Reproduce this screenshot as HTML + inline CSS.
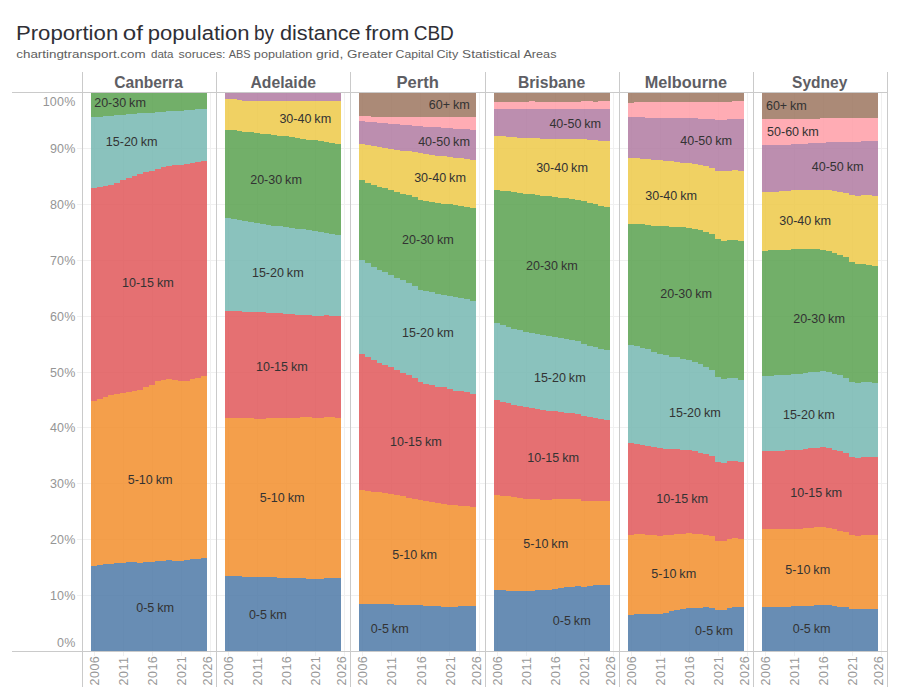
<!DOCTYPE html>
<html><head><meta charset="utf-8"><title>Proportion of population by distance from CBD</title>
<style>html,body{margin:0;padding:0;background:#fff;}body{width:900px;height:700px;overflow:hidden;}svg{display:block;}text{font-family:'Liberation Sans',sans-serif;}.ml{font-size:12.5px;fill:#333;}.yl{font-size:12.5px;fill:#959595;letter-spacing:0.2px;}.xl{font-size:12.5px;fill:#989898;letter-spacing:0.45px;}.hd{font-size:15.8px;font-weight:bold;fill:#5e5e64;}</style></head><body>
<svg width="900" height="700" viewBox="0 0 900 700">
<rect width="900" height="700" fill="#fff"/>
<g style="font-size:19.4px;fill:#2f2f36"><text x="15.93" y="40" textLength="102.29" lengthAdjust="spacingAndGlyphs">Proportion</text><text x="122.73" y="40" textLength="20.14" lengthAdjust="spacingAndGlyphs">of</text><text x="147.77" y="40" textLength="101.78" lengthAdjust="spacingAndGlyphs">population</text><text x="253.97" y="40" textLength="20.05" lengthAdjust="spacingAndGlyphs">by</text><text x="279.93" y="40" textLength="80.74" lengthAdjust="spacingAndGlyphs">distance</text><text x="365.27" y="40" textLength="43.97" lengthAdjust="spacingAndGlyphs">from</text><text x="413.65" y="40" textLength="40.24" lengthAdjust="spacingAndGlyphs">CBD</text></g>
<g style="font-size:11.5px;fill:#5e5e5e"><text x="16.3" y="57.9" textLength="129.29" lengthAdjust="spacingAndGlyphs">chartingtransport.com</text><text x="151.04" y="57.9" textLength="22.48" lengthAdjust="spacingAndGlyphs">data</text><text x="178.53" y="57.9" textLength="47.05" lengthAdjust="spacingAndGlyphs">soruces:</text><text x="228.75" y="57.9" textLength="21.86" lengthAdjust="spacingAndGlyphs">ABS</text><text x="253.88" y="57.9" textLength="58.35" lengthAdjust="spacingAndGlyphs">population</text><text x="316.04" y="57.9" textLength="27.26" lengthAdjust="spacingAndGlyphs">grid,</text><text x="347.13" y="57.9" textLength="45.54" lengthAdjust="spacingAndGlyphs">Greater</text><text x="395.59" y="57.9" textLength="38.04" lengthAdjust="spacingAndGlyphs">Capital</text><text x="436.47" y="57.9" textLength="21.72" lengthAdjust="spacingAndGlyphs">City</text><text x="462.09" y="57.9" textLength="58.26" lengthAdjust="spacingAndGlyphs">Statistical</text><text x="523.44" y="57.9" textLength="33.04" lengthAdjust="spacingAndGlyphs">Areas</text></g>
<g shape-rendering="crispEdges" stroke="#f0f0f0" stroke-width="1">
<line x1="77" x2="887" y1="595.5" y2="595.5"/>
<line x1="77" x2="887" y1="539.5" y2="539.5"/>
<line x1="77" x2="887" y1="483.5" y2="483.5"/>
<line x1="77" x2="887" y1="427.5" y2="427.5"/>
<line x1="77" x2="887" y1="372.5" y2="372.5"/>
<line x1="77" x2="887" y1="316.5" y2="316.5"/>
<line x1="77" x2="887" y1="260.5" y2="260.5"/>
<line x1="77" x2="887" y1="204.5" y2="204.5"/>
<line x1="77" x2="887" y1="148.5" y2="148.5"/>
<line x1="94.5" x2="94.5" y1="93" y2="656"/>
<line x1="123.5" x2="123.5" y1="93" y2="656"/>
<line x1="152.5" x2="152.5" y1="93" y2="656"/>
<line x1="181.5" x2="181.5" y1="93" y2="656"/>
<line x1="210.5" x2="210.5" y1="93" y2="656"/>
<line x1="228.5" x2="228.5" y1="93" y2="656"/>
<line x1="257.5" x2="257.5" y1="93" y2="656"/>
<line x1="286.5" x2="286.5" y1="93" y2="656"/>
<line x1="315.5" x2="315.5" y1="93" y2="656"/>
<line x1="344.5" x2="344.5" y1="93" y2="656"/>
<line x1="362.5" x2="362.5" y1="93" y2="656"/>
<line x1="391.5" x2="391.5" y1="93" y2="656"/>
<line x1="420.5" x2="420.5" y1="93" y2="656"/>
<line x1="449.5" x2="449.5" y1="93" y2="656"/>
<line x1="479.5" x2="479.5" y1="93" y2="656"/>
<line x1="497.5" x2="497.5" y1="93" y2="656"/>
<line x1="526.5" x2="526.5" y1="93" y2="656"/>
<line x1="555.5" x2="555.5" y1="93" y2="656"/>
<line x1="584.5" x2="584.5" y1="93" y2="656"/>
<line x1="613.5" x2="613.5" y1="93" y2="656"/>
<line x1="631.5" x2="631.5" y1="93" y2="656"/>
<line x1="660.5" x2="660.5" y1="93" y2="656"/>
<line x1="689.5" x2="689.5" y1="93" y2="656"/>
<line x1="718.5" x2="718.5" y1="93" y2="656"/>
<line x1="747.5" x2="747.5" y1="93" y2="656"/>
<line x1="765.5" x2="765.5" y1="93" y2="656"/>
<line x1="794.5" x2="794.5" y1="93" y2="656"/>
<line x1="823.5" x2="823.5" y1="93" y2="656"/>
<line x1="852.5" x2="852.5" y1="93" y2="656"/>
<line x1="881.5" x2="881.5" y1="93" y2="656"/>
</g>
<g shape-rendering="crispEdges" fill-opacity="0.85">
<path fill="#4E79A7" d="M91 566.1L96.8 566.1L96.8 565.15L102.6 565.15L102.6 564.2L108.4 564.2L108.4 563.76L114.2 563.76L114.2 563.32L120 563.32L120 562.88L125.8 562.88L125.8 562.44L131.6 562.44L131.6 562L137.4 562L137.4 562.8L143.2 562.8L143.2 562.28L149 562.28L149 561.76L154.8 561.76L154.8 561.24L160.6 561.24L160.6 560.72L166.4 560.72L166.4 560.2L172.2 560.2L172.2 560.6L178 560.6L178 561L183.8 561L183.8 560.23L189.6 560.23L189.6 559.45L195.4 559.45L195.4 558.67L201.2 558.67L201.2 557.9L207 557.9L207 651L201.2 651L201.2 651L195.4 651L195.4 651L189.6 651L189.6 651L183.8 651L183.8 651L178 651L178 651L172.2 651L172.2 651L166.4 651L166.4 651L160.6 651L160.6 651L154.8 651L154.8 651L149 651L149 651L143.2 651L143.2 651L137.4 651L137.4 651L131.6 651L131.6 651L125.8 651L125.8 651L120 651L120 651L114.2 651L114.2 651L108.4 651L108.4 651L102.6 651L102.6 651L96.8 651L96.8 651L91 651Z"/>
<path fill="#F28E2B" d="M91 401.1L96.8 401.1L96.8 399.2L102.6 399.2L102.6 397.2L108.4 397.2L108.4 395.1L114.2 395.1L114.2 394.2L120 394.2L120 393.3L125.8 393.3L125.8 392.2L131.6 392.2L131.6 391.1L137.4 391.1L137.4 390.2L143.2 390.2L143.2 387L149 387L149 385.2L154.8 385.2L154.8 381.1L160.6 381.1L160.6 380.2L166.4 380.2L166.4 379.3L172.2 379.3L172.2 380.2L178 380.2L178 381L183.8 381L183.8 381L189.6 381L189.6 379.3L195.4 379.3L195.4 378.2L201.2 378.2L201.2 376.1L207 376.1L207 557.9L201.2 557.9L201.2 558.67L195.4 558.67L195.4 559.45L189.6 559.45L189.6 560.23L183.8 560.23L183.8 561L178 561L178 560.6L172.2 560.6L172.2 560.2L166.4 560.2L166.4 560.72L160.6 560.72L160.6 561.24L154.8 561.24L154.8 561.76L149 561.76L149 562.28L143.2 562.28L143.2 562.8L137.4 562.8L137.4 562L131.6 562L131.6 562.44L125.8 562.44L125.8 562.88L120 562.88L120 563.32L114.2 563.32L114.2 563.76L108.4 563.76L108.4 564.2L102.6 564.2L102.6 565.15L96.8 565.15L96.8 566.1L91 566.1Z"/>
<path fill="#E15759" d="M91 188L96.8 188L96.8 187.2L102.6 187.2L102.6 186.1L108.4 186.1L108.4 185.4L114.2 185.4L114.2 183.3L120 183.3L120 180.2L125.8 180.2L125.8 178.3L131.6 178.3L131.6 176.3L137.4 176.3L137.4 174.4L143.2 174.4L143.2 172.4L149 172.4L149 170.6L154.8 170.6L154.8 169.3L160.6 169.3L160.6 167.4L166.4 167.4L166.4 166.3L172.2 166.3L172.2 165.4L178 165.4L178 164.6L183.8 164.6L183.8 163.9L189.6 163.9L189.6 163.1L195.4 163.1L195.4 162L201.2 162L201.2 160.9L207 160.9L207 376.1L201.2 376.1L201.2 378.2L195.4 378.2L195.4 379.3L189.6 379.3L189.6 381L183.8 381L183.8 381L178 381L178 380.2L172.2 380.2L172.2 379.3L166.4 379.3L166.4 380.2L160.6 380.2L160.6 381.1L154.8 381.1L154.8 385.2L149 385.2L149 387L143.2 387L143.2 390.2L137.4 390.2L137.4 391.1L131.6 391.1L131.6 392.2L125.8 392.2L125.8 393.3L120 393.3L120 394.2L114.2 394.2L114.2 395.1L108.4 395.1L108.4 397.2L102.6 397.2L102.6 399.2L96.8 399.2L96.8 401.1L91 401.1Z"/>
<path fill="#76B7B2" d="M91 117.1L96.8 117.1L96.8 116.64L102.6 116.64L102.6 116.18L108.4 116.18L108.4 115.72L114.2 115.72L114.2 115.26L120 115.26L120 114.8L125.8 114.8L125.8 114.34L131.6 114.34L131.6 113.88L137.4 113.88L137.4 113.42L143.2 113.42L143.2 112.96L149 112.96L149 112.5L154.8 112.5L154.8 112.11L160.6 112.11L160.6 111.72L166.4 111.72L166.4 111.33L172.2 111.33L172.2 110.94L178 110.94L178 110.56L183.8 110.56L183.8 110.17L189.6 110.17L189.6 109.78L195.4 109.78L195.4 109.39L201.2 109.39L201.2 109L207 109L207 160.9L201.2 160.9L201.2 162L195.4 162L195.4 163.1L189.6 163.1L189.6 163.9L183.8 163.9L183.8 164.6L178 164.6L178 165.4L172.2 165.4L172.2 166.3L166.4 166.3L166.4 167.4L160.6 167.4L160.6 169.3L154.8 169.3L154.8 170.6L149 170.6L149 172.4L143.2 172.4L143.2 174.4L137.4 174.4L137.4 176.3L131.6 176.3L131.6 178.3L125.8 178.3L125.8 180.2L120 180.2L120 183.3L114.2 183.3L114.2 185.4L108.4 185.4L108.4 186.1L102.6 186.1L102.6 187.2L96.8 187.2L96.8 188L91 188Z"/>
<path fill="#59A14F" d="M91 93L96.8 93L96.8 93L102.6 93L102.6 93L108.4 93L108.4 93L114.2 93L114.2 93L120 93L120 93L125.8 93L125.8 93L131.6 93L131.6 93L137.4 93L137.4 93L143.2 93L143.2 93L149 93L149 93L154.8 93L154.8 93L160.6 93L160.6 93L166.4 93L166.4 93L172.2 93L172.2 93L178 93L178 93L183.8 93L183.8 93L189.6 93L189.6 93L195.4 93L195.4 93L201.2 93L201.2 93L207 93L207 109L201.2 109L201.2 109.39L195.4 109.39L195.4 109.78L189.6 109.78L189.6 110.17L183.8 110.17L183.8 110.56L178 110.56L178 110.94L172.2 110.94L172.2 111.33L166.4 111.33L166.4 111.72L160.6 111.72L160.6 112.11L154.8 112.11L154.8 112.5L149 112.5L149 112.96L143.2 112.96L143.2 113.42L137.4 113.42L137.4 113.88L131.6 113.88L131.6 114.34L125.8 114.34L125.8 114.8L120 114.8L120 115.26L114.2 115.26L114.2 115.72L108.4 115.72L108.4 116.18L102.6 116.18L102.6 116.64L96.8 116.64L96.8 117.1L91 117.1Z"/>
<path fill="#4E79A7" d="M225 576L230.8 576L230.8 576.17L236.6 576.17L236.6 576.35L242.4 576.35L242.4 576.53L248.2 576.53L248.2 576.7L254 576.7L254 576.88L259.8 576.88L259.8 577.07L265.6 577.07L265.6 577.25L271.4 577.25L271.4 577.43L277.2 577.43L277.2 577.62L283 577.62L283 577.8L288.8 577.8L288.8 578L294.6 578L294.6 578.2L300.4 578.2L300.4 578.4L306.2 578.4L306.2 578.6L312 578.6L312 578.8L317.8 578.8L317.8 578.8L323.6 578.8L323.6 577.8L329.4 577.8L329.4 577.8L335.2 577.8L335.2 577.8L341 577.8L341 651L335.2 651L335.2 651L329.4 651L329.4 651L323.6 651L323.6 651L317.8 651L317.8 651L312 651L312 651L306.2 651L306.2 651L300.4 651L300.4 651L294.6 651L294.6 651L288.8 651L288.8 651L283 651L283 651L277.2 651L277.2 651L271.4 651L271.4 651L265.6 651L265.6 651L259.8 651L259.8 651L254 651L254 651L248.2 651L248.2 651L242.4 651L242.4 651L236.6 651L236.6 651L230.8 651L230.8 651L225 651Z"/>
<path fill="#F28E2B" d="M225 418L230.8 418L230.8 418L236.6 418L236.6 418L242.4 418L242.4 418L248.2 418L248.2 418L254 418L254 418.8L259.8 418.8L259.8 418.8L265.6 418.8L265.6 418L271.4 418L271.4 418L277.2 418L277.2 418L283 418L283 418L288.8 418L288.8 418L294.6 418L294.6 418L300.4 418L300.4 417.3L306.2 417.3L306.2 417.3L312 417.3L312 418L317.8 418L317.8 418L323.6 418L323.6 417.4L329.4 417.4L329.4 417.4L335.2 417.4L335.2 418L341 418L341 577.8L335.2 577.8L335.2 577.8L329.4 577.8L329.4 577.8L323.6 577.8L323.6 578.8L317.8 578.8L317.8 578.8L312 578.8L312 578.6L306.2 578.6L306.2 578.4L300.4 578.4L300.4 578.2L294.6 578.2L294.6 578L288.8 578L288.8 577.8L283 577.8L283 577.62L277.2 577.62L277.2 577.43L271.4 577.43L271.4 577.25L265.6 577.25L265.6 577.07L259.8 577.07L259.8 576.88L254 576.88L254 576.7L248.2 576.7L248.2 576.53L242.4 576.53L242.4 576.35L236.6 576.35L236.6 576.17L230.8 576.17L230.8 576L225 576Z"/>
<path fill="#E15759" d="M225 310.9L230.8 310.9L230.8 311.12L236.6 311.12L236.6 311.35L242.4 311.35L242.4 311.57L248.2 311.57L248.2 311.8L254 311.8L254 312.13L259.8 312.13L259.8 312.47L265.6 312.47L265.6 312.8L271.4 312.8L271.4 313.13L277.2 313.13L277.2 313.47L283 313.47L283 313.8L288.8 313.8L288.8 314.15L294.6 314.15L294.6 314.5L300.4 314.5L300.4 314.85L306.2 314.85L306.2 315.2L312 315.2L312 315.55L317.8 315.55L317.8 315.9L323.6 315.9L323.6 314.9L329.4 314.9L329.4 315.9L335.2 315.9L335.2 315.9L341 315.9L341 418L335.2 418L335.2 417.4L329.4 417.4L329.4 417.4L323.6 417.4L323.6 418L317.8 418L317.8 418L312 418L312 417.3L306.2 417.3L306.2 417.3L300.4 417.3L300.4 418L294.6 418L294.6 418L288.8 418L288.8 418L283 418L283 418L277.2 418L277.2 418L271.4 418L271.4 418L265.6 418L265.6 418.8L259.8 418.8L259.8 418.8L254 418.8L254 418L248.2 418L248.2 418L242.4 418L242.4 418L236.6 418L236.6 418L230.8 418L230.8 418L225 418Z"/>
<path fill="#76B7B2" d="M225 218L230.8 218L230.8 218.94L236.6 218.94L236.6 219.88L242.4 219.88L242.4 220.82L248.2 220.82L248.2 221.76L254 221.76L254 222.7L259.8 222.7L259.8 223.64L265.6 223.64L265.6 224.58L271.4 224.58L271.4 225.52L277.2 225.52L277.2 226.46L283 226.46L283 227.4L288.8 227.4L288.8 228.02L294.6 228.02L294.6 228.64L300.4 228.64L300.4 229.26L306.2 229.26L306.2 229.88L312 229.88L312 230.5L317.8 230.5L317.8 231.68L323.6 231.68L323.6 232.85L329.4 232.85L329.4 234.02L335.2 234.02L335.2 235.2L341 235.2L341 315.9L335.2 315.9L335.2 315.9L329.4 315.9L329.4 314.9L323.6 314.9L323.6 315.9L317.8 315.9L317.8 315.55L312 315.55L312 315.2L306.2 315.2L306.2 314.85L300.4 314.85L300.4 314.5L294.6 314.5L294.6 314.15L288.8 314.15L288.8 313.8L283 313.8L283 313.47L277.2 313.47L277.2 313.13L271.4 313.13L271.4 312.8L265.6 312.8L265.6 312.47L259.8 312.47L259.8 312.13L254 312.13L254 311.8L248.2 311.8L248.2 311.57L242.4 311.57L242.4 311.35L236.6 311.35L236.6 311.12L230.8 311.12L230.8 310.9L225 310.9Z"/>
<path fill="#59A14F" d="M225 129.7L230.8 129.7L230.8 130.36L236.6 130.36L236.6 131.02L242.4 131.02L242.4 131.68L248.2 131.68L248.2 132.34L254 132.34L254 133L259.8 133L259.8 133.66L265.6 133.66L265.6 134.32L271.4 134.32L271.4 134.98L277.2 134.98L277.2 135.64L283 135.64L283 136.3L288.8 136.3L288.8 137.13L294.6 137.13L294.6 137.97L300.4 137.97L300.4 138.8L306.2 138.8L306.2 139.63L312 139.63L312 140.47L317.8 140.47L317.8 141.3L323.6 141.3L323.6 142.13L329.4 142.13L329.4 142.97L335.2 142.97L335.2 143.8L341 143.8L341 235.2L335.2 235.2L335.2 234.02L329.4 234.02L329.4 232.85L323.6 232.85L323.6 231.68L317.8 231.68L317.8 230.5L312 230.5L312 229.88L306.2 229.88L306.2 229.26L300.4 229.26L300.4 228.64L294.6 228.64L294.6 228.02L288.8 228.02L288.8 227.4L283 227.4L283 226.46L277.2 226.46L277.2 225.52L271.4 225.52L271.4 224.58L265.6 224.58L265.6 223.64L259.8 223.64L259.8 222.7L254 222.7L254 221.76L248.2 221.76L248.2 220.82L242.4 220.82L242.4 219.88L236.6 219.88L236.6 218.94L230.8 218.94L230.8 218L225 218Z"/>
<path fill="#EDC948" d="M225 98.9L230.8 98.9L230.8 99.43L236.6 99.43L236.6 99.97L242.4 99.97L242.4 100.5L248.2 100.5L248.2 100.9L254 100.9L254 100.9L259.8 100.9L259.8 100.9L265.6 100.9L265.6 100.9L271.4 100.9L271.4 100.9L277.2 100.9L277.2 100.9L283 100.9L283 100.9L288.8 100.9L288.8 100.9L294.6 100.9L294.6 100.9L300.4 100.9L300.4 100.9L306.2 100.9L306.2 100.9L312 100.9L312 100.9L317.8 100.9L317.8 100.9L323.6 100.9L323.6 100.9L329.4 100.9L329.4 100.9L335.2 100.9L335.2 100.9L341 100.9L341 143.8L335.2 143.8L335.2 142.97L329.4 142.97L329.4 142.13L323.6 142.13L323.6 141.3L317.8 141.3L317.8 140.47L312 140.47L312 139.63L306.2 139.63L306.2 138.8L300.4 138.8L300.4 137.97L294.6 137.97L294.6 137.13L288.8 137.13L288.8 136.3L283 136.3L283 135.64L277.2 135.64L277.2 134.98L271.4 134.98L271.4 134.32L265.6 134.32L265.6 133.66L259.8 133.66L259.8 133L254 133L254 132.34L248.2 132.34L248.2 131.68L242.4 131.68L242.4 131.02L236.6 131.02L236.6 130.36L230.8 130.36L230.8 129.7L225 129.7Z"/>
<path fill="#B07AA1" d="M225 93L230.8 93L230.8 93L236.6 93L236.6 93L242.4 93L242.4 93L248.2 93L248.2 93L254 93L254 93L259.8 93L259.8 93L265.6 93L265.6 93L271.4 93L271.4 93L277.2 93L277.2 93L283 93L283 93L288.8 93L288.8 93L294.6 93L294.6 93L300.4 93L300.4 93L306.2 93L306.2 93L312 93L312 93L317.8 93L317.8 93L323.6 93L323.6 93L329.4 93L329.4 93L335.2 93L335.2 93L341 93L341 100.9L335.2 100.9L335.2 100.9L329.4 100.9L329.4 100.9L323.6 100.9L323.6 100.9L317.8 100.9L317.8 100.9L312 100.9L312 100.9L306.2 100.9L306.2 100.9L300.4 100.9L300.4 100.9L294.6 100.9L294.6 100.9L288.8 100.9L288.8 100.9L283 100.9L283 100.9L277.2 100.9L277.2 100.9L271.4 100.9L271.4 100.9L265.6 100.9L265.6 100.9L259.8 100.9L259.8 100.9L254 100.9L254 100.9L248.2 100.9L248.2 100.5L242.4 100.5L242.4 99.97L236.6 99.97L236.6 99.43L230.8 99.43L230.8 98.9L225 98.9Z"/>
<path fill="#4E79A7" d="M359 603.9L364.85 603.9L364.85 604.01L370.7 604.01L370.7 604.13L376.55 604.13L376.55 604.24L382.4 604.24L382.4 604.36L388.25 604.36L388.25 604.47L394.1 604.47L394.1 604.59L399.95 604.59L399.95 604.7L405.8 604.7L405.8 604.95L411.65 604.95L411.65 605.2L417.5 605.2L417.5 605.45L423.35 605.45L423.35 605.7L429.2 605.7L429.2 605.98L435.05 605.98L435.05 606.25L440.9 606.25L440.9 606.52L446.75 606.52L446.75 606.8L452.6 606.8L452.6 606.8L458.45 606.8L458.45 605.7L464.3 605.7L464.3 605.7L470.15 605.7L470.15 605.7L476 605.7L476 651L470.15 651L470.15 651L464.3 651L464.3 651L458.45 651L458.45 651L452.6 651L452.6 651L446.75 651L446.75 651L440.9 651L440.9 651L435.05 651L435.05 651L429.2 651L429.2 651L423.35 651L423.35 651L417.5 651L417.5 651L411.65 651L411.65 651L405.8 651L405.8 651L399.95 651L399.95 651L394.1 651L394.1 651L388.25 651L388.25 651L382.4 651L382.4 651L376.55 651L376.55 651L370.7 651L370.7 651L364.85 651L364.85 651L359 651Z"/>
<path fill="#F28E2B" d="M359 490L364.85 490L364.85 490.78L370.7 490.78L370.7 491.56L376.55 491.56L376.55 492.34L382.4 492.34L382.4 493.12L388.25 493.12L388.25 493.9L394.1 493.9L394.1 495.16L399.95 495.16L399.95 496.42L405.8 496.42L405.8 497.68L411.65 497.68L411.65 498.94L417.5 498.94L417.5 500.2L423.35 500.2L423.35 501.06L429.2 501.06L429.2 501.92L435.05 501.92L435.05 502.78L440.9 502.78L440.9 503.64L446.75 503.64L446.75 504.5L452.6 504.5L452.6 505.1L458.45 505.1L458.45 505.7L464.3 505.7L464.3 506.3L470.15 506.3L470.15 506.9L476 506.9L476 605.7L470.15 605.7L470.15 605.7L464.3 605.7L464.3 605.7L458.45 605.7L458.45 606.8L452.6 606.8L452.6 606.8L446.75 606.8L446.75 606.52L440.9 606.52L440.9 606.25L435.05 606.25L435.05 605.98L429.2 605.98L429.2 605.7L423.35 605.7L423.35 605.45L417.5 605.45L417.5 605.2L411.65 605.2L411.65 604.95L405.8 604.95L405.8 604.7L399.95 604.7L399.95 604.59L394.1 604.59L394.1 604.47L388.25 604.47L388.25 604.36L382.4 604.36L382.4 604.24L376.55 604.24L376.55 604.13L370.7 604.13L370.7 604.01L364.85 604.01L364.85 603.9L359 603.9Z"/>
<path fill="#E15759" d="M359 353.8L364.85 353.8L364.85 356.8L370.7 356.8L370.7 359.9L376.55 359.9L376.55 362.7L382.4 362.7L382.4 365L388.25 365L388.25 366.9L394.1 366.9L394.1 370L399.95 370L399.95 372.8L405.8 372.8L405.8 375L411.65 375L411.65 378L417.5 378L417.5 381.9L423.35 381.9L423.35 383.7L429.2 383.7L429.2 384.8L435.05 384.8L435.05 386.9L440.9 386.9L440.9 386.9L446.75 386.9L446.75 388.9L452.6 388.9L452.6 390.7L458.45 390.7L458.45 391.1L464.3 391.1L464.3 392L470.15 392L470.15 393.9L476 393.9L476 506.9L470.15 506.9L470.15 506.3L464.3 506.3L464.3 505.7L458.45 505.7L458.45 505.1L452.6 505.1L452.6 504.5L446.75 504.5L446.75 503.64L440.9 503.64L440.9 502.78L435.05 502.78L435.05 501.92L429.2 501.92L429.2 501.06L423.35 501.06L423.35 500.2L417.5 500.2L417.5 498.94L411.65 498.94L411.65 497.68L405.8 497.68L405.8 496.42L399.95 496.42L399.95 495.16L394.1 495.16L394.1 493.9L388.25 493.9L388.25 493.12L382.4 493.12L382.4 492.34L376.55 492.34L376.55 491.56L370.7 491.56L370.7 490.78L364.85 490.78L364.85 490L359 490Z"/>
<path fill="#76B7B2" d="M359 260.2L364.85 260.2L364.85 262.9L370.7 262.9L370.7 267L376.55 267L376.55 270L382.4 270L382.4 272.1L388.25 272.1L388.25 275.3L394.1 275.3L394.1 278L399.95 278L399.95 280.3L405.8 280.3L405.8 283L411.65 283L411.65 286L417.5 286L417.5 290.1L423.35 290.1L423.35 291.3L429.2 291.3L429.2 292.2L435.05 292.2L435.05 294L440.9 294L440.9 294.9L446.75 294.9L446.75 296.1L452.6 296.1L452.6 297.2L458.45 297.2L458.45 298.4L464.3 298.4L464.3 299.3L470.15 299.3L470.15 301.1L476 301.1L476 393.9L470.15 393.9L470.15 392L464.3 392L464.3 391.1L458.45 391.1L458.45 390.7L452.6 390.7L452.6 388.9L446.75 388.9L446.75 386.9L440.9 386.9L440.9 386.9L435.05 386.9L435.05 384.8L429.2 384.8L429.2 383.7L423.35 383.7L423.35 381.9L417.5 381.9L417.5 378L411.65 378L411.65 375L405.8 375L405.8 372.8L399.95 372.8L399.95 370L394.1 370L394.1 366.9L388.25 366.9L388.25 365L382.4 365L382.4 362.7L376.55 362.7L376.55 359.9L370.7 359.9L370.7 356.8L364.85 356.8L364.85 353.8L359 353.8Z"/>
<path fill="#59A14F" d="M359 180.1L364.85 180.1L364.85 182.8L370.7 182.8L370.7 184.8L376.55 184.8L376.55 186.8L382.4 186.8L382.4 187.9L388.25 187.9L388.25 189.9L394.1 189.9L394.1 191.8L399.95 191.8L399.95 193.7L405.8 193.7L405.8 194.9L411.65 194.9L411.65 196.8L417.5 196.8L417.5 199.6L423.35 199.6L423.35 200.7L429.2 200.7L429.2 201.6L435.05 201.6L435.05 202.7L440.9 202.7L440.9 203.5L446.75 203.5L446.75 204.4L452.6 204.4L452.6 205.4L458.45 205.4L458.45 206.3L464.3 206.3L464.3 207.1L470.15 207.1L470.15 207.9L476 207.9L476 301.1L470.15 301.1L470.15 299.3L464.3 299.3L464.3 298.4L458.45 298.4L458.45 297.2L452.6 297.2L452.6 296.1L446.75 296.1L446.75 294.9L440.9 294.9L440.9 294L435.05 294L435.05 292.2L429.2 292.2L429.2 291.3L423.35 291.3L423.35 290.1L417.5 290.1L417.5 286L411.65 286L411.65 283L405.8 283L405.8 280.3L399.95 280.3L399.95 278L394.1 278L394.1 275.3L388.25 275.3L388.25 272.1L382.4 272.1L382.4 270L376.55 270L376.55 267L370.7 267L370.7 262.9L364.85 262.9L364.85 260.2L359 260.2Z"/>
<path fill="#EDC948" d="M359 143.8L364.85 143.8L364.85 144.76L370.7 144.76L370.7 145.72L376.55 145.72L376.55 146.68L382.4 146.68L382.4 147.64L388.25 147.64L388.25 148.6L394.1 148.6L394.1 149.56L399.95 149.56L399.95 150.52L405.8 150.52L405.8 151.48L411.65 151.48L411.65 152.44L417.5 152.44L417.5 153.4L423.35 153.4L423.35 154.1L429.2 154.1L429.2 154.8L435.05 154.8L435.05 155.5L440.9 155.5L440.9 156.2L446.75 156.2L446.75 156.9L452.6 156.9L452.6 157.6L458.45 157.6L458.45 158.3L464.3 158.3L464.3 159L470.15 159L470.15 159.7L476 159.7L476 207.9L470.15 207.9L470.15 207.1L464.3 207.1L464.3 206.3L458.45 206.3L458.45 205.4L452.6 205.4L452.6 204.4L446.75 204.4L446.75 203.5L440.9 203.5L440.9 202.7L435.05 202.7L435.05 201.6L429.2 201.6L429.2 200.7L423.35 200.7L423.35 199.6L417.5 199.6L417.5 196.8L411.65 196.8L411.65 194.9L405.8 194.9L405.8 193.7L399.95 193.7L399.95 191.8L394.1 191.8L394.1 189.9L388.25 189.9L388.25 187.9L382.4 187.9L382.4 186.8L376.55 186.8L376.55 184.8L370.7 184.8L370.7 182.8L364.85 182.8L364.85 180.1L359 180.1Z"/>
<path fill="#B07AA1" d="M359 121L364.85 121L364.85 121.52L370.7 121.52L370.7 122.04L376.55 122.04L376.55 122.56L382.4 122.56L382.4 123.08L388.25 123.08L388.25 123.6L394.1 123.6L394.1 124.12L399.95 124.12L399.95 124.64L405.8 124.64L405.8 125.16L411.65 125.16L411.65 125.68L417.5 125.68L417.5 126.2L423.35 126.2L423.35 126.59L429.2 126.59L429.2 126.98L435.05 126.98L435.05 127.37L440.9 127.37L440.9 127.76L446.75 127.76L446.75 128.14L452.6 128.14L452.6 128.53L458.45 128.53L458.45 128.92L464.3 128.92L464.3 129.31L470.15 129.31L470.15 129.7L476 129.7L476 159.7L470.15 159.7L470.15 159L464.3 159L464.3 158.3L458.45 158.3L458.45 157.6L452.6 157.6L452.6 156.9L446.75 156.9L446.75 156.2L440.9 156.2L440.9 155.5L435.05 155.5L435.05 154.8L429.2 154.8L429.2 154.1L423.35 154.1L423.35 153.4L417.5 153.4L417.5 152.44L411.65 152.44L411.65 151.48L405.8 151.48L405.8 150.52L399.95 150.52L399.95 149.56L394.1 149.56L394.1 148.6L388.25 148.6L388.25 147.64L382.4 147.64L382.4 146.68L376.55 146.68L376.55 145.72L370.7 145.72L370.7 144.76L364.85 144.76L364.85 143.8L359 143.8Z"/>
<path fill="#FF9DA7" d="M359 116L364.85 116L364.85 116.33L370.7 116.33L370.7 116.67L376.55 116.67L376.55 117L382.4 117L382.4 117L388.25 117L388.25 117L394.1 117L394.1 117L399.95 117L399.95 117L405.8 117L405.8 117L411.65 117L411.65 117L417.5 117L417.5 117L423.35 117L423.35 117L429.2 117L429.2 117L435.05 117L435.05 117L440.9 117L440.9 117L446.75 117L446.75 117L452.6 117L452.6 117L458.45 117L458.45 117L464.3 117L464.3 117L470.15 117L470.15 117L476 117L476 129.7L470.15 129.7L470.15 129.31L464.3 129.31L464.3 128.92L458.45 128.92L458.45 128.53L452.6 128.53L452.6 128.14L446.75 128.14L446.75 127.76L440.9 127.76L440.9 127.37L435.05 127.37L435.05 126.98L429.2 126.98L429.2 126.59L423.35 126.59L423.35 126.2L417.5 126.2L417.5 125.68L411.65 125.68L411.65 125.16L405.8 125.16L405.8 124.64L399.95 124.64L399.95 124.12L394.1 124.12L394.1 123.6L388.25 123.6L388.25 123.08L382.4 123.08L382.4 122.56L376.55 122.56L376.55 122.04L370.7 122.04L370.7 121.52L364.85 121.52L364.85 121L359 121Z"/>
<path fill="#9C755F" d="M359 93L364.85 93L364.85 93L370.7 93L370.7 93L376.55 93L376.55 93L382.4 93L382.4 93L388.25 93L388.25 93L394.1 93L394.1 93L399.95 93L399.95 93L405.8 93L405.8 93L411.65 93L411.65 93L417.5 93L417.5 93L423.35 93L423.35 93L429.2 93L429.2 93L435.05 93L435.05 93L440.9 93L440.9 93L446.75 93L446.75 93L452.6 93L452.6 93L458.45 93L458.45 93L464.3 93L464.3 93L470.15 93L470.15 93L476 93L476 117L470.15 117L470.15 117L464.3 117L464.3 117L458.45 117L458.45 117L452.6 117L452.6 117L446.75 117L446.75 117L440.9 117L440.9 117L435.05 117L435.05 117L429.2 117L429.2 117L423.35 117L423.35 117L417.5 117L417.5 117L411.65 117L411.65 117L405.8 117L405.8 117L399.95 117L399.95 117L394.1 117L394.1 117L388.25 117L388.25 117L382.4 117L382.4 117L376.55 117L376.55 116.67L370.7 116.67L370.7 116.33L364.85 116.33L364.85 116L359 116Z"/>
<path fill="#4E79A7" d="M494 590.2L499.8 590.2L499.8 590.4L505.6 590.4L505.6 590.6L511.4 590.6L511.4 590.8L517.2 590.8L517.2 591L523 591L523 591L528.8 591L528.8 590.73L534.6 590.73L534.6 590.47L540.4 590.47L540.4 590.2L546.2 590.2L546.2 589.55L552 589.55L552 588.9L557.8 588.9L557.8 588L563.6 588L563.6 587.1L569.4 587.1L569.4 586.55L575.2 586.55L575.2 586L581 586L581 586.7L586.8 586.7L586.8 585.95L592.6 585.95L592.6 585.2L598.4 585.2L598.4 585.1L604.2 585.1L604.2 585L610 585L610 651L604.2 651L604.2 651L598.4 651L598.4 651L592.6 651L592.6 651L586.8 651L586.8 651L581 651L581 651L575.2 651L575.2 651L569.4 651L569.4 651L563.6 651L563.6 651L557.8 651L557.8 651L552 651L552 651L546.2 651L546.2 651L540.4 651L540.4 651L534.6 651L534.6 651L528.8 651L528.8 651L523 651L523 651L517.2 651L517.2 651L511.4 651L511.4 651L505.6 651L505.6 651L499.8 651L499.8 651L494 651Z"/>
<path fill="#F28E2B" d="M494 494.9L499.8 494.9L499.8 495.5L505.6 495.5L505.6 496.1L511.4 496.1L511.4 496.7L517.2 496.7L517.2 497.75L523 497.75L523 498.8L528.8 498.8L528.8 499.13L534.6 499.13L534.6 499.47L540.4 499.47L540.4 499.8L546.2 499.8L546.2 499.57L552 499.57L552 499.33L557.8 499.33L557.8 499.1L563.6 499.1L563.6 499.1L569.4 499.1L569.4 499.1L575.2 499.1L575.2 499.1L581 499.1L581 500.8L586.8 500.8L586.8 500.8L592.6 500.8L592.6 500.8L598.4 500.8L598.4 500.8L604.2 500.8L604.2 500.8L610 500.8L610 585L604.2 585L604.2 585.1L598.4 585.1L598.4 585.2L592.6 585.2L592.6 585.95L586.8 585.95L586.8 586.7L581 586.7L581 586L575.2 586L575.2 586.55L569.4 586.55L569.4 587.1L563.6 587.1L563.6 588L557.8 588L557.8 588.9L552 588.9L552 589.55L546.2 589.55L546.2 590.2L540.4 590.2L540.4 590.47L534.6 590.47L534.6 590.73L528.8 590.73L528.8 591L523 591L523 591L517.2 591L517.2 590.8L511.4 590.8L511.4 590.6L505.6 590.6L505.6 590.4L499.8 590.4L499.8 590.2L494 590.2Z"/>
<path fill="#E15759" d="M494 399.9L499.8 399.9L499.8 401.57L505.6 401.57L505.6 403.23L511.4 403.23L511.4 404.9L517.2 404.9L517.2 406.1L523 406.1L523 407.3L528.8 407.3L528.8 408.17L534.6 408.17L534.6 409.03L540.4 409.03L540.4 409.9L546.2 409.9L546.2 410.57L552 410.57L552 411.23L557.8 411.23L557.8 411.9L563.6 411.9L563.6 412.6L569.4 412.6L569.4 413.3L575.2 413.3L575.2 414L581 414L581 416.1L586.8 416.1L586.8 417.15L592.6 417.15L592.6 418.2L598.4 418.2L598.4 419.1L604.2 419.1L604.2 420L610 420L610 500.8L604.2 500.8L604.2 500.8L598.4 500.8L598.4 500.8L592.6 500.8L592.6 500.8L586.8 500.8L586.8 500.8L581 500.8L581 499.1L575.2 499.1L575.2 499.1L569.4 499.1L569.4 499.1L563.6 499.1L563.6 499.1L557.8 499.1L557.8 499.33L552 499.33L552 499.57L546.2 499.57L546.2 499.8L540.4 499.8L540.4 499.47L534.6 499.47L534.6 499.13L528.8 499.13L528.8 498.8L523 498.8L523 497.75L517.2 497.75L517.2 496.7L511.4 496.7L511.4 496.1L505.6 496.1L505.6 495.5L499.8 495.5L499.8 494.9L494 494.9Z"/>
<path fill="#76B7B2" d="M494 323L499.8 323L499.8 325.05L505.6 325.05L505.6 327.1L511.4 327.1L511.4 328.63L517.2 328.63L517.2 330.17L523 330.17L523 331.7L528.8 331.7L528.8 332.87L534.6 332.87L534.6 334.03L540.4 334.03L540.4 335.2L546.2 335.2L546.2 336.07L552 336.07L552 336.93L557.8 336.93L557.8 337.8L563.6 337.8L563.6 338.9L569.4 338.9L569.4 340L575.2 340L575.2 341.1L581 341.1L581 344.2L586.8 344.2L586.8 345.75L592.6 345.75L592.6 347.3L598.4 347.3L598.4 348.65L604.2 348.65L604.2 350L610 350L610 420L604.2 420L604.2 419.1L598.4 419.1L598.4 418.2L592.6 418.2L592.6 417.15L586.8 417.15L586.8 416.1L581 416.1L581 414L575.2 414L575.2 413.3L569.4 413.3L569.4 412.6L563.6 412.6L563.6 411.9L557.8 411.9L557.8 411.23L552 411.23L552 410.57L546.2 410.57L546.2 409.9L540.4 409.9L540.4 409.03L534.6 409.03L534.6 408.17L528.8 408.17L528.8 407.3L523 407.3L523 406.1L517.2 406.1L517.2 404.9L511.4 404.9L511.4 403.23L505.6 403.23L505.6 401.57L499.8 401.57L499.8 399.9L494 399.9Z"/>
<path fill="#59A14F" d="M494 189.9L499.8 189.9L499.8 190.66L505.6 190.66L505.6 191.42L511.4 191.42L511.4 192.18L517.2 192.18L517.2 192.94L523 192.94L523 193.7L528.8 193.7L528.8 194.32L534.6 194.32L534.6 194.94L540.4 194.94L540.4 195.56L546.2 195.56L546.2 196.18L552 196.18L552 196.8L557.8 196.8L557.8 197.58L563.6 197.58L563.6 198.35L569.4 198.35L569.4 199.12L575.2 199.12L575.2 199.9L581 199.9L581 201.3L586.8 201.3L586.8 202.7L592.6 202.7L592.6 204.17L598.4 204.17L598.4 205.63L604.2 205.63L604.2 207.1L610 207.1L610 350L604.2 350L604.2 348.65L598.4 348.65L598.4 347.3L592.6 347.3L592.6 345.75L586.8 345.75L586.8 344.2L581 344.2L581 341.1L575.2 341.1L575.2 340L569.4 340L569.4 338.9L563.6 338.9L563.6 337.8L557.8 337.8L557.8 336.93L552 336.93L552 336.07L546.2 336.07L546.2 335.2L540.4 335.2L540.4 334.03L534.6 334.03L534.6 332.87L528.8 332.87L528.8 331.7L523 331.7L523 330.17L517.2 330.17L517.2 328.63L511.4 328.63L511.4 327.1L505.6 327.1L505.6 325.05L499.8 325.05L499.8 323L494 323Z"/>
<path fill="#EDC948" d="M494 136L499.8 136L499.8 136.45L505.6 136.45L505.6 136.9L511.4 136.9L511.4 137.35L517.2 137.35L517.2 137.8L523 137.8L523 138L528.8 138L528.8 138.2L534.6 138.2L534.6 138.4L540.4 138.4L540.4 138.6L546.2 138.6L546.2 138.71L552 138.71L552 138.83L557.8 138.83L557.8 138.94L563.6 138.94L563.6 139.06L569.4 139.06L569.4 139.17L575.2 139.17L575.2 139.29L581 139.29L581 139.4L586.8 139.4L586.8 139.8L592.6 139.8L592.6 140.2L598.4 140.2L598.4 140.6L604.2 140.6L604.2 141L610 141L610 207.1L604.2 207.1L604.2 205.63L598.4 205.63L598.4 204.17L592.6 204.17L592.6 202.7L586.8 202.7L586.8 201.3L581 201.3L581 199.9L575.2 199.9L575.2 199.12L569.4 199.12L569.4 198.35L563.6 198.35L563.6 197.58L557.8 197.58L557.8 196.8L552 196.8L552 196.18L546.2 196.18L546.2 195.56L540.4 195.56L540.4 194.94L534.6 194.94L534.6 194.32L528.8 194.32L528.8 193.7L523 193.7L523 192.94L517.2 192.94L517.2 192.18L511.4 192.18L511.4 191.42L505.6 191.42L505.6 190.66L499.8 190.66L499.8 189.9L494 189.9Z"/>
<path fill="#B07AA1" d="M494 109L499.8 109L499.8 109L505.6 109L505.6 109L511.4 109L511.4 109L517.2 109L517.2 109L523 109L523 109L528.8 109L528.8 109L534.6 109L534.6 109L540.4 109L540.4 109L546.2 109L546.2 109L552 109L552 109L557.8 109L557.8 109L563.6 109L563.6 109L569.4 109L569.4 109L575.2 109L575.2 109L581 109L581 109L586.8 109L586.8 109L592.6 109L592.6 109L598.4 109L598.4 109L604.2 109L604.2 109L610 109L610 141L604.2 141L604.2 140.6L598.4 140.6L598.4 140.2L592.6 140.2L592.6 139.8L586.8 139.8L586.8 139.4L581 139.4L581 139.29L575.2 139.29L575.2 139.17L569.4 139.17L569.4 139.06L563.6 139.06L563.6 138.94L557.8 138.94L557.8 138.83L552 138.83L552 138.71L546.2 138.71L546.2 138.6L540.4 138.6L540.4 138.4L534.6 138.4L534.6 138.2L528.8 138.2L528.8 138L523 138L523 137.8L517.2 137.8L517.2 137.35L511.4 137.35L511.4 136.9L505.6 136.9L505.6 136.45L499.8 136.45L499.8 136L494 136Z"/>
<path fill="#FF9DA7" d="M494 102L499.8 102L499.8 102L505.6 102L505.6 102L511.4 102L511.4 102L517.2 102L517.2 102L523 102L523 102L528.8 102L528.8 101.3L534.6 101.3L534.6 102L540.4 102L540.4 102L546.2 102L546.2 102L552 102L552 102L557.8 102L557.8 102L563.6 102L563.6 102L569.4 102L569.4 102L575.2 102L575.2 102L581 102L581 101.3L586.8 101.3L586.8 101.3L592.6 101.3L592.6 101.8L598.4 101.8L598.4 101L604.2 101L604.2 101L610 101L610 109L604.2 109L604.2 109L598.4 109L598.4 109L592.6 109L592.6 109L586.8 109L586.8 109L581 109L581 109L575.2 109L575.2 109L569.4 109L569.4 109L563.6 109L563.6 109L557.8 109L557.8 109L552 109L552 109L546.2 109L546.2 109L540.4 109L540.4 109L534.6 109L534.6 109L528.8 109L528.8 109L523 109L523 109L517.2 109L517.2 109L511.4 109L511.4 109L505.6 109L505.6 109L499.8 109L499.8 109L494 109Z"/>
<path fill="#9C755F" d="M494 93L499.8 93L499.8 93L505.6 93L505.6 93L511.4 93L511.4 93L517.2 93L517.2 93L523 93L523 93L528.8 93L528.8 93L534.6 93L534.6 93L540.4 93L540.4 93L546.2 93L546.2 93L552 93L552 93L557.8 93L557.8 93L563.6 93L563.6 93L569.4 93L569.4 93L575.2 93L575.2 93L581 93L581 93L586.8 93L586.8 93L592.6 93L592.6 93L598.4 93L598.4 93L604.2 93L604.2 93L610 93L610 101L604.2 101L604.2 101L598.4 101L598.4 101.8L592.6 101.8L592.6 101.3L586.8 101.3L586.8 101.3L581 101.3L581 102L575.2 102L575.2 102L569.4 102L569.4 102L563.6 102L563.6 102L557.8 102L557.8 102L552 102L552 102L546.2 102L546.2 102L540.4 102L540.4 102L534.6 102L534.6 101.3L528.8 101.3L528.8 102L523 102L523 102L517.2 102L517.2 102L511.4 102L511.4 102L505.6 102L505.6 102L499.8 102L499.8 102L494 102Z"/>
<path fill="#4E79A7" d="M628 615.1L633.8 615.1L633.8 614.3L639.6 614.3L639.6 614.3L645.4 614.3L645.4 613.8L651.2 613.8L651.2 613.8L657 613.8L657 613.8L662.8 613.8L662.8 612.8L668.6 612.8L668.6 611.2L674.4 611.2L674.4 610L680.2 610L680.2 608.9L686 608.9L686 608.1L691.8 608.1L691.8 608.1L697.6 608.1L697.6 608.1L703.4 608.1L703.4 607L709.2 607L709.2 608.1L715 608.1L715 609.6L720.8 609.6L720.8 609.6L726.6 609.6L726.6 608.1L732.4 608.1L732.4 607L738.2 607L738.2 607L744 607L744 651L738.2 651L738.2 651L732.4 651L732.4 651L726.6 651L726.6 651L720.8 651L720.8 651L715 651L715 651L709.2 651L709.2 651L703.4 651L703.4 651L697.6 651L697.6 651L691.8 651L691.8 651L686 651L686 651L680.2 651L680.2 651L674.4 651L674.4 651L668.6 651L668.6 651L662.8 651L662.8 651L657 651L657 651L651.2 651L651.2 651L645.4 651L645.4 651L639.6 651L639.6 651L633.8 651L633.8 651L628 651Z"/>
<path fill="#F28E2B" d="M628 534.8L633.8 534.8L633.8 534L639.6 534L639.6 534L645.4 534L645.4 534.8L651.2 534.8L651.2 534.8L657 534.8L657 535.6L662.8 535.6L662.8 534.8L668.6 534.8L668.6 534.8L674.4 534.8L674.4 534L680.2 534L680.2 534L686 534L686 533.3L691.8 533.3L691.8 534L697.6 534L697.6 534L703.4 534L703.4 534.8L709.2 534.8L709.2 535.8L715 535.8L715 540.7L720.8 540.7L720.8 540.7L726.6 540.7L726.6 539.2L732.4 539.2L732.4 538.1L738.2 538.1L738.2 538.9L744 538.9L744 607L738.2 607L738.2 607L732.4 607L732.4 608.1L726.6 608.1L726.6 609.6L720.8 609.6L720.8 609.6L715 609.6L715 608.1L709.2 608.1L709.2 607L703.4 607L703.4 608.1L697.6 608.1L697.6 608.1L691.8 608.1L691.8 608.1L686 608.1L686 608.9L680.2 608.9L680.2 610L674.4 610L674.4 611.2L668.6 611.2L668.6 612.8L662.8 612.8L662.8 613.8L657 613.8L657 613.8L651.2 613.8L651.2 613.8L645.4 613.8L645.4 614.3L639.6 614.3L639.6 614.3L633.8 614.3L633.8 615.1L628 615.1Z"/>
<path fill="#E15759" d="M628 442.8L633.8 442.8L633.8 443.9L639.6 443.9L639.6 444.9L645.4 444.9L645.4 446L651.2 446L651.2 447L657 447L657 448L662.8 448L662.8 448.6L668.6 448.6L668.6 449.1L674.4 449.1L674.4 449.1L680.2 449.1L680.2 449.8L686 449.8L686 450.2L691.8 450.2L691.8 451.1L697.6 451.1L697.6 453L703.4 453L703.4 454L709.2 454L709.2 456.1L715 456.1L715 461.8L720.8 461.8L720.8 462.8L726.6 462.8L726.6 461.1L732.4 461.1L732.4 461.1L738.2 461.1L738.2 462L744 462L744 538.9L738.2 538.9L738.2 538.1L732.4 538.1L732.4 539.2L726.6 539.2L726.6 540.7L720.8 540.7L720.8 540.7L715 540.7L715 535.8L709.2 535.8L709.2 534.8L703.4 534.8L703.4 534L697.6 534L697.6 534L691.8 534L691.8 533.3L686 533.3L686 534L680.2 534L680.2 534L674.4 534L674.4 534.8L668.6 534.8L668.6 534.8L662.8 534.8L662.8 535.6L657 535.6L657 534.8L651.2 534.8L651.2 534.8L645.4 534.8L645.4 534L639.6 534L639.6 534L633.8 534L633.8 534.8L628 534.8Z"/>
<path fill="#76B7B2" d="M628 345L633.8 345L633.8 346.1L639.6 346.1L639.6 347.9L645.4 347.9L645.4 349.3L651.2 349.3L651.2 352.1L657 352.1L657 354.4L662.8 354.4L662.8 355.2L668.6 355.2L668.6 356.7L674.4 356.7L674.4 357.2L680.2 357.2L680.2 359.1L686 359.1L686 360.2L691.8 360.2L691.8 362.2L697.6 362.2L697.6 364.2L703.4 364.2L703.4 367.2L709.2 367.2L709.2 370L715 370L715 377L720.8 377L720.8 378.8L726.6 378.8L726.6 378.1L732.4 378.1L732.4 378.1L738.2 378.1L738.2 380.1L744 380.1L744 462L738.2 462L738.2 461.1L732.4 461.1L732.4 461.1L726.6 461.1L726.6 462.8L720.8 462.8L720.8 461.8L715 461.8L715 456.1L709.2 456.1L709.2 454L703.4 454L703.4 453L697.6 453L697.6 451.1L691.8 451.1L691.8 450.2L686 450.2L686 449.8L680.2 449.8L680.2 449.1L674.4 449.1L674.4 449.1L668.6 449.1L668.6 448.6L662.8 448.6L662.8 448L657 448L657 447L651.2 447L651.2 446L645.4 446L645.4 444.9L639.6 444.9L639.6 443.9L633.8 443.9L633.8 442.8L628 442.8Z"/>
<path fill="#59A14F" d="M628 224.1L633.8 224.1L633.8 224.1L639.6 224.1L639.6 224.1L645.4 224.1L645.4 225.2L651.2 225.2L651.2 225.75L657 225.75L657 226.3L662.8 226.3L662.8 226.3L668.6 226.3L668.6 226.53L674.4 226.53L674.4 226.77L680.2 226.77L680.2 227L686 227L686 228.3L691.8 228.3L691.8 229.1L697.6 229.1L697.6 230.2L703.4 230.2L703.4 231.9L709.2 231.9L709.2 234L715 234L715 239.2L720.8 239.2L720.8 240.7L726.6 240.7L726.6 240L732.4 240L732.4 240L738.2 240L738.2 241.1L744 241.1L744 380.1L738.2 380.1L738.2 378.1L732.4 378.1L732.4 378.1L726.6 378.1L726.6 378.8L720.8 378.8L720.8 377L715 377L715 370L709.2 370L709.2 367.2L703.4 367.2L703.4 364.2L697.6 364.2L697.6 362.2L691.8 362.2L691.8 360.2L686 360.2L686 359.1L680.2 359.1L680.2 357.2L674.4 357.2L674.4 356.7L668.6 356.7L668.6 355.2L662.8 355.2L662.8 354.4L657 354.4L657 352.1L651.2 352.1L651.2 349.3L645.4 349.3L645.4 347.9L639.6 347.9L639.6 346.1L633.8 346.1L633.8 345L628 345Z"/>
<path fill="#EDC948" d="M628 157.6L633.8 157.6L633.8 158.17L639.6 158.17L639.6 158.73L645.4 158.73L645.4 159.3L651.2 159.3L651.2 159.83L657 159.83L657 160.37L662.8 160.37L662.8 160.9L668.6 160.9L668.6 161.43L674.4 161.43L674.4 161.97L680.2 161.97L680.2 162.5L686 162.5L686 163.37L691.8 163.37L691.8 164.23L697.6 164.23L697.6 165.1L703.4 165.1L703.4 166.45L709.2 166.45L709.2 167.8L715 167.8L715 170.9L720.8 170.9L720.8 170.75L726.6 170.75L726.6 170.6L732.4 170.6L732.4 169.8L738.2 169.8L738.2 171L744 171L744 241.1L738.2 241.1L738.2 240L732.4 240L732.4 240L726.6 240L726.6 240.7L720.8 240.7L720.8 239.2L715 239.2L715 234L709.2 234L709.2 231.9L703.4 231.9L703.4 230.2L697.6 230.2L697.6 229.1L691.8 229.1L691.8 228.3L686 228.3L686 227L680.2 227L680.2 226.77L674.4 226.77L674.4 226.53L668.6 226.53L668.6 226.3L662.8 226.3L662.8 226.3L657 226.3L657 225.75L651.2 225.75L651.2 225.2L645.4 225.2L645.4 224.1L639.6 224.1L639.6 224.1L633.8 224.1L633.8 224.1L628 224.1Z"/>
<path fill="#B07AA1" d="M628 116.8L633.8 116.8L633.8 117.07L639.6 117.07L639.6 117.33L645.4 117.33L645.4 117.6L651.2 117.6L651.2 117.67L657 117.67L657 117.74L662.8 117.74L662.8 117.81L668.6 117.81L668.6 117.89L674.4 117.89L674.4 117.96L680.2 117.96L680.2 118.03L686 118.03L686 118.1L691.8 118.1L691.8 118.3L697.6 118.3L697.6 118.5L703.4 118.5L703.4 118.7L709.2 118.7L709.2 119.3L715 119.3L715 119.9L720.8 119.9L720.8 119.55L726.6 119.55L726.6 119.2L732.4 119.2L732.4 119.2L738.2 119.2L738.2 119.2L744 119.2L744 171L738.2 171L738.2 169.8L732.4 169.8L732.4 170.6L726.6 170.6L726.6 170.75L720.8 170.75L720.8 170.9L715 170.9L715 167.8L709.2 167.8L709.2 166.45L703.4 166.45L703.4 165.1L697.6 165.1L697.6 164.23L691.8 164.23L691.8 163.37L686 163.37L686 162.5L680.2 162.5L680.2 161.97L674.4 161.97L674.4 161.43L668.6 161.43L668.6 160.9L662.8 160.9L662.8 160.37L657 160.37L657 159.83L651.2 159.83L651.2 159.3L645.4 159.3L645.4 158.73L639.6 158.73L639.6 158.17L633.8 158.17L633.8 157.6L628 157.6Z"/>
<path fill="#FF9DA7" d="M628 102.8L633.8 102.8L633.8 102L639.6 102L639.6 102L645.4 102L645.4 102L651.2 102L651.2 102L657 102L657 102L662.8 102L662.8 102L668.6 102L668.6 102L674.4 102L674.4 102L680.2 102L680.2 102L686 102L686 102L691.8 102L691.8 102L697.6 102L697.6 102L703.4 102L703.4 102L709.2 102L709.2 102L715 102L715 102L720.8 102L720.8 102L726.6 102L726.6 102L732.4 102L732.4 101.1L738.2 101.1L738.2 101.1L744 101.1L744 119.2L738.2 119.2L738.2 119.2L732.4 119.2L732.4 119.2L726.6 119.2L726.6 119.55L720.8 119.55L720.8 119.9L715 119.9L715 119.3L709.2 119.3L709.2 118.7L703.4 118.7L703.4 118.5L697.6 118.5L697.6 118.3L691.8 118.3L691.8 118.1L686 118.1L686 118.03L680.2 118.03L680.2 117.96L674.4 117.96L674.4 117.89L668.6 117.89L668.6 117.81L662.8 117.81L662.8 117.74L657 117.74L657 117.67L651.2 117.67L651.2 117.6L645.4 117.6L645.4 117.33L639.6 117.33L639.6 117.07L633.8 117.07L633.8 116.8L628 116.8Z"/>
<path fill="#9C755F" d="M628 93L633.8 93L633.8 93L639.6 93L639.6 93L645.4 93L645.4 93L651.2 93L651.2 93L657 93L657 93L662.8 93L662.8 93L668.6 93L668.6 93L674.4 93L674.4 93L680.2 93L680.2 93L686 93L686 93L691.8 93L691.8 93L697.6 93L697.6 93L703.4 93L703.4 93L709.2 93L709.2 93L715 93L715 93L720.8 93L720.8 93L726.6 93L726.6 93L732.4 93L732.4 93L738.2 93L738.2 93L744 93L744 101.1L738.2 101.1L738.2 101.1L732.4 101.1L732.4 102L726.6 102L726.6 102L720.8 102L720.8 102L715 102L715 102L709.2 102L709.2 102L703.4 102L703.4 102L697.6 102L697.6 102L691.8 102L691.8 102L686 102L686 102L680.2 102L680.2 102L674.4 102L674.4 102L668.6 102L668.6 102L662.8 102L662.8 102L657 102L657 102L651.2 102L651.2 102L645.4 102L645.4 102L639.6 102L639.6 102L633.8 102L633.8 102.8L628 102.8Z"/>
<path fill="#4E79A7" d="M762 607L767.8 607L767.8 607L773.6 607L773.6 607L779.4 607L779.4 607L785.2 607L785.2 607L791 607L791 606.1L796.8 606.1L796.8 606.1L802.6 606.1L802.6 606.1L808.4 606.1L808.4 606.1L814.2 606.1L814.2 605L820 605L820 605L825.8 605L825.8 605L831.6 605L831.6 605.7L837.4 605.7L837.4 606.8L843.2 606.8L843.2 606.8L849 606.8L849 608.9L854.8 608.9L854.8 608.9L860.6 608.9L860.6 608.9L866.4 608.9L866.4 608.9L872.2 608.9L872.2 608.9L878 608.9L878 651L872.2 651L872.2 651L866.4 651L866.4 651L860.6 651L860.6 651L854.8 651L854.8 651L849 651L849 651L843.2 651L843.2 651L837.4 651L837.4 651L831.6 651L831.6 651L825.8 651L825.8 651L820 651L820 651L814.2 651L814.2 651L808.4 651L808.4 651L802.6 651L802.6 651L796.8 651L796.8 651L791 651L791 651L785.2 651L785.2 651L779.4 651L779.4 651L773.6 651L773.6 651L767.8 651L767.8 651L762 651Z"/>
<path fill="#F28E2B" d="M762 528.9L767.8 528.9L767.8 528.9L773.6 528.9L773.6 528.9L779.4 528.9L779.4 528.9L785.2 528.9L785.2 528.9L791 528.9L791 528.9L796.8 528.9L796.8 528.9L802.6 528.9L802.6 527.9L808.4 527.9L808.4 527.9L814.2 527.9L814.2 527.2L820 527.2L820 527.2L825.8 527.2L825.8 527.9L831.6 527.9L831.6 528.9L837.4 528.9L837.4 530.7L843.2 530.7L843.2 532L849 532L849 534.6L854.8 534.6L854.8 535.7L860.6 535.7L860.6 534.6L866.4 534.6L866.4 534.6L872.2 534.6L872.2 534.6L878 534.6L878 608.9L872.2 608.9L872.2 608.9L866.4 608.9L866.4 608.9L860.6 608.9L860.6 608.9L854.8 608.9L854.8 608.9L849 608.9L849 606.8L843.2 606.8L843.2 606.8L837.4 606.8L837.4 605.7L831.6 605.7L831.6 605L825.8 605L825.8 605L820 605L820 605L814.2 605L814.2 606.1L808.4 606.1L808.4 606.1L802.6 606.1L802.6 606.1L796.8 606.1L796.8 606.1L791 606.1L791 607L785.2 607L785.2 607L779.4 607L779.4 607L773.6 607L773.6 607L767.8 607L767.8 607L762 607Z"/>
<path fill="#E15759" d="M762 451.1L767.8 451.1L767.8 451.1L773.6 451.1L773.6 451.1L779.4 451.1L779.4 451.1L785.2 451.1L785.2 450.2L791 450.2L791 450.2L796.8 450.2L796.8 450.2L802.6 450.2L802.6 449.1L808.4 449.1L808.4 448L814.2 448L814.2 448L820 448L820 447L825.8 447L825.8 448L831.6 448L831.6 449.8L837.4 449.8L837.4 451.1L843.2 451.1L843.2 453L849 453L849 456.9L854.8 456.9L854.8 457.9L860.6 457.9L860.6 456.9L866.4 456.9L866.4 456.9L872.2 456.9L872.2 456.9L878 456.9L878 534.6L872.2 534.6L872.2 534.6L866.4 534.6L866.4 534.6L860.6 534.6L860.6 535.7L854.8 535.7L854.8 534.6L849 534.6L849 532L843.2 532L843.2 530.7L837.4 530.7L837.4 528.9L831.6 528.9L831.6 527.9L825.8 527.9L825.8 527.2L820 527.2L820 527.2L814.2 527.2L814.2 527.9L808.4 527.9L808.4 527.9L802.6 527.9L802.6 528.9L796.8 528.9L796.8 528.9L791 528.9L791 528.9L785.2 528.9L785.2 528.9L779.4 528.9L779.4 528.9L773.6 528.9L773.6 528.9L767.8 528.9L767.8 528.9L762 528.9Z"/>
<path fill="#76B7B2" d="M762 376.1L767.8 376.1L767.8 376.1L773.6 376.1L773.6 375L779.4 375L779.4 375L785.2 375L785.2 375L791 375L791 374L796.8 374L796.8 374L802.6 374L802.6 373L808.4 373L808.4 372.2L814.2 372.2L814.2 372.2L820 372.2L820 371.1L825.8 371.1L825.8 372.2L831.6 372.2L831.6 373.7L837.4 373.7L837.4 375L843.2 375L843.2 378.1L849 378.1L849 381.8L854.8 381.8L854.8 382.8L860.6 382.8L860.6 382L866.4 382L866.4 382L872.2 382L872.2 382.8L878 382.8L878 456.9L872.2 456.9L872.2 456.9L866.4 456.9L866.4 456.9L860.6 456.9L860.6 457.9L854.8 457.9L854.8 456.9L849 456.9L849 453L843.2 453L843.2 451.1L837.4 451.1L837.4 449.8L831.6 449.8L831.6 448L825.8 448L825.8 447L820 447L820 448L814.2 448L814.2 448L808.4 448L808.4 449.1L802.6 449.1L802.6 450.2L796.8 450.2L796.8 450.2L791 450.2L791 450.2L785.2 450.2L785.2 451.1L779.4 451.1L779.4 451.1L773.6 451.1L773.6 451.1L767.8 451.1L767.8 451.1L762 451.1Z"/>
<path fill="#59A14F" d="M762 250.7L767.8 250.7L767.8 249.8L773.6 249.8L773.6 249.8L779.4 249.8L779.4 249.8L785.2 249.8L785.2 249.8L791 249.8L791 249L796.8 249L796.8 249L802.6 249L802.6 249L808.4 249L808.4 249L814.2 249L814.2 249L820 249L820 249.8L825.8 249.8L825.8 250.7L831.6 250.7L831.6 252.9L837.4 252.9L837.4 254.9L843.2 254.9L843.2 256.9L849 256.9L849 261.9L854.8 261.9L854.8 263.9L860.6 263.9L860.6 264.2L866.4 264.2L866.4 264.7L872.2 264.7L872.2 266.1L878 266.1L878 382.8L872.2 382.8L872.2 382L866.4 382L866.4 382L860.6 382L860.6 382.8L854.8 382.8L854.8 381.8L849 381.8L849 378.1L843.2 378.1L843.2 375L837.4 375L837.4 373.7L831.6 373.7L831.6 372.2L825.8 372.2L825.8 371.1L820 371.1L820 372.2L814.2 372.2L814.2 372.2L808.4 372.2L808.4 373L802.6 373L802.6 374L796.8 374L796.8 374L791 374L791 375L785.2 375L785.2 375L779.4 375L779.4 375L773.6 375L773.6 376.1L767.8 376.1L767.8 376.1L762 376.1Z"/>
<path fill="#EDC948" d="M762 191.8L767.8 191.8L767.8 191.8L773.6 191.8L773.6 191.8L779.4 191.8L779.4 191L785.2 191L785.2 191L791 191L791 190.2L796.8 190.2L796.8 190.2L802.6 190.2L802.6 190.2L808.4 190.2L808.4 190.2L814.2 190.2L814.2 190.2L820 190.2L820 190.2L825.8 190.2L825.8 190.2L831.6 190.2L831.6 191L837.4 191L837.4 191.8L843.2 191.8L843.2 192.9L849 192.9L849 194.6L854.8 194.6L854.8 195.7L860.6 195.7L860.6 194.9L866.4 194.9L866.4 194.9L872.2 194.9L872.2 196L878 196L878 266.1L872.2 266.1L872.2 264.7L866.4 264.7L866.4 264.2L860.6 264.2L860.6 263.9L854.8 263.9L854.8 261.9L849 261.9L849 256.9L843.2 256.9L843.2 254.9L837.4 254.9L837.4 252.9L831.6 252.9L831.6 250.7L825.8 250.7L825.8 249.8L820 249.8L820 249L814.2 249L814.2 249L808.4 249L808.4 249L802.6 249L802.6 249L796.8 249L796.8 249L791 249L791 249.8L785.2 249.8L785.2 249.8L779.4 249.8L779.4 249.8L773.6 249.8L773.6 249.8L767.8 249.8L767.8 250.7L762 250.7Z"/>
<path fill="#B07AA1" d="M762 145.2L767.8 145.2L767.8 145.04L773.6 145.04L773.6 144.88L779.4 144.88L779.4 144.72L785.2 144.72L785.2 144.56L791 144.56L791 144.4L796.8 144.4L796.8 144.03L802.6 144.03L802.6 143.67L808.4 143.67L808.4 143.3L814.2 143.3L814.2 142.93L820 142.93L820 142.57L825.8 142.57L825.8 142.2L831.6 142.2L831.6 142.07L837.4 142.07L837.4 141.95L843.2 141.95L843.2 141.82L849 141.82L849 141.7L854.8 141.7L854.8 141.52L860.6 141.52L860.6 141.35L866.4 141.35L866.4 141.18L872.2 141.18L872.2 141L878 141L878 196L872.2 196L872.2 194.9L866.4 194.9L866.4 194.9L860.6 194.9L860.6 195.7L854.8 195.7L854.8 194.6L849 194.6L849 192.9L843.2 192.9L843.2 191.8L837.4 191.8L837.4 191L831.6 191L831.6 190.2L825.8 190.2L825.8 190.2L820 190.2L820 190.2L814.2 190.2L814.2 190.2L808.4 190.2L808.4 190.2L802.6 190.2L802.6 190.2L796.8 190.2L796.8 190.2L791 190.2L791 191L785.2 191L785.2 191L779.4 191L779.4 191.8L773.6 191.8L773.6 191.8L767.8 191.8L767.8 191.8L762 191.8Z"/>
<path fill="#FF9DA7" d="M762 118.7L767.8 118.7L767.8 118.7L773.6 118.7L773.6 118.7L779.4 118.7L779.4 118.7L785.2 118.7L785.2 118.7L791 118.7L791 118.7L796.8 118.7L796.8 118.7L802.6 118.7L802.6 118.7L808.4 118.7L808.4 118.7L814.2 118.7L814.2 118.7L820 118.7L820 117.9L825.8 117.9L825.8 117.9L831.6 117.9L831.6 117.9L837.4 117.9L837.4 117.9L843.2 117.9L843.2 117.9L849 117.9L849 117.9L854.8 117.9L854.8 117.9L860.6 117.9L860.6 117.9L866.4 117.9L866.4 117.9L872.2 117.9L872.2 117.9L878 117.9L878 141L872.2 141L872.2 141.18L866.4 141.18L866.4 141.35L860.6 141.35L860.6 141.52L854.8 141.52L854.8 141.7L849 141.7L849 141.82L843.2 141.82L843.2 141.95L837.4 141.95L837.4 142.07L831.6 142.07L831.6 142.2L825.8 142.2L825.8 142.57L820 142.57L820 142.93L814.2 142.93L814.2 143.3L808.4 143.3L808.4 143.67L802.6 143.67L802.6 144.03L796.8 144.03L796.8 144.4L791 144.4L791 144.56L785.2 144.56L785.2 144.72L779.4 144.72L779.4 144.88L773.6 144.88L773.6 145.04L767.8 145.04L767.8 145.2L762 145.2Z"/>
<path fill="#9C755F" d="M762 93L767.8 93L767.8 93L773.6 93L773.6 93L779.4 93L779.4 93L785.2 93L785.2 93L791 93L791 93L796.8 93L796.8 93L802.6 93L802.6 93L808.4 93L808.4 93L814.2 93L814.2 93L820 93L820 93L825.8 93L825.8 93L831.6 93L831.6 93L837.4 93L837.4 93L843.2 93L843.2 93L849 93L849 93L854.8 93L854.8 93L860.6 93L860.6 93L866.4 93L866.4 93L872.2 93L872.2 93L878 93L878 117.9L872.2 117.9L872.2 117.9L866.4 117.9L866.4 117.9L860.6 117.9L860.6 117.9L854.8 117.9L854.8 117.9L849 117.9L849 117.9L843.2 117.9L843.2 117.9L837.4 117.9L837.4 117.9L831.6 117.9L831.6 117.9L825.8 117.9L825.8 117.9L820 117.9L820 118.7L814.2 118.7L814.2 118.7L808.4 118.7L808.4 118.7L802.6 118.7L802.6 118.7L796.8 118.7L796.8 118.7L791 118.7L791 118.7L785.2 118.7L785.2 118.7L779.4 118.7L779.4 118.7L773.6 118.7L773.6 118.7L767.8 118.7L767.8 118.7L762 118.7Z"/>
</g>
<g shape-rendering="crispEdges" stroke="#cacaca" stroke-width="1">
<line x1="12" x2="888" y1="92.5" y2="92.5"/>
<line x1="12" x2="888" y1="651.5" y2="651.5"/>
<line x1="82.5" x2="82.5" y1="72" y2="687"/>
<line x1="216.5" x2="216.5" y1="72" y2="687"/>
<line x1="350.5" x2="350.5" y1="72" y2="687"/>
<line x1="485.5" x2="485.5" y1="72" y2="687"/>
<line x1="619.5" x2="619.5" y1="72" y2="687"/>
<line x1="753.5" x2="753.5" y1="72" y2="687"/>
<line x1="887.5" x2="887.5" y1="72" y2="687"/>
</g>
<g style="font-size:15.9px;fill:#5e5e64;font-weight:bold"><text x="114.17" y="87.8" textLength="68.78" lengthAdjust="spacingAndGlyphs">Canberra</text><text x="250.41" y="87.8" textLength="65.59" lengthAdjust="spacingAndGlyphs">Adelaide</text><text x="396.42" y="87.8" textLength="42.39" lengthAdjust="spacingAndGlyphs">Perth</text><text x="517.88" y="87.8" textLength="67.36" lengthAdjust="spacingAndGlyphs">Brisbane</text><text x="644.74" y="87.8" textLength="82.24" lengthAdjust="spacingAndGlyphs">Melbourne</text><text x="792.03" y="87.8" textLength="55.28" lengthAdjust="spacingAndGlyphs">Sydney</text></g>
<text class="yl" x="75.5" y="647.2" text-anchor="end">0%</text>
<text class="yl" x="75.5" y="599.7" text-anchor="end">10%</text>
<text class="yl" x="75.5" y="543.9" text-anchor="end">20%</text>
<text class="yl" x="75.5" y="488.1" text-anchor="end">30%</text>
<text class="yl" x="75.5" y="432.3" text-anchor="end">40%</text>
<text class="yl" x="75.5" y="376.5" text-anchor="end">50%</text>
<text class="yl" x="75.5" y="320.7" text-anchor="end">60%</text>
<text class="yl" x="75.5" y="264.9" text-anchor="end">70%</text>
<text class="yl" x="75.5" y="209.1" text-anchor="end">80%</text>
<text class="yl" x="75.5" y="153.3" text-anchor="end">90%</text>
<text class="yl" x="75.5" y="106" text-anchor="end">100%</text>
<text class="xl" transform="translate(99,685.4) rotate(-90)">2006</text>
<text class="xl" transform="translate(128,685.4) rotate(-90)">2011</text>
<text class="xl" transform="translate(157,685.4) rotate(-90)">2016</text>
<text class="xl" transform="translate(186,685.4) rotate(-90)">2021</text>
<text class="xl" transform="translate(212.2,685.4) rotate(-90)">2026</text>
<text class="xl" transform="translate(233,685.4) rotate(-90)">2006</text>
<text class="xl" transform="translate(262,685.4) rotate(-90)">2011</text>
<text class="xl" transform="translate(291,685.4) rotate(-90)">2016</text>
<text class="xl" transform="translate(320,685.4) rotate(-90)">2021</text>
<text class="xl" transform="translate(346.2,685.4) rotate(-90)">2026</text>
<text class="xl" transform="translate(367.09,685.4) rotate(-90)">2006</text>
<text class="xl" transform="translate(396.31,685.4) rotate(-90)">2011</text>
<text class="xl" transform="translate(425.53,685.4) rotate(-90)">2016</text>
<text class="xl" transform="translate(454.74,685.4) rotate(-90)">2021</text>
<text class="xl" transform="translate(481.2,685.4) rotate(-90)">2026</text>
<text class="xl" transform="translate(502,685.4) rotate(-90)">2006</text>
<text class="xl" transform="translate(531,685.4) rotate(-90)">2011</text>
<text class="xl" transform="translate(560,685.4) rotate(-90)">2016</text>
<text class="xl" transform="translate(589,685.4) rotate(-90)">2021</text>
<text class="xl" transform="translate(615.2,685.4) rotate(-90)">2026</text>
<text class="xl" transform="translate(636,685.4) rotate(-90)">2006</text>
<text class="xl" transform="translate(665,685.4) rotate(-90)">2011</text>
<text class="xl" transform="translate(694,685.4) rotate(-90)">2016</text>
<text class="xl" transform="translate(723,685.4) rotate(-90)">2021</text>
<text class="xl" transform="translate(749.2,685.4) rotate(-90)">2026</text>
<text class="xl" transform="translate(770,685.4) rotate(-90)">2006</text>
<text class="xl" transform="translate(799,685.4) rotate(-90)">2011</text>
<text class="xl" transform="translate(828,685.4) rotate(-90)">2016</text>
<text class="xl" transform="translate(857,685.4) rotate(-90)">2021</text>
<text class="xl" transform="translate(883.2,685.4) rotate(-90)">2026</text>
<g style="font-size:12.5px;fill:#333"><text x="94.22" y="106.9" textLength="31.97" lengthAdjust="spacingAndGlyphs">20-30</text><text x="129.13" y="106.9" textLength="16.89" lengthAdjust="spacingAndGlyphs">km</text></g>
<g style="font-size:12.5px;fill:#333"><text x="105.86" y="145.9" textLength="31.97" lengthAdjust="spacingAndGlyphs">15-20</text><text x="140.78" y="145.9" textLength="16.89" lengthAdjust="spacingAndGlyphs">km</text></g>
<g style="font-size:12.5px;fill:#333"><text x="122.06" y="286.8" textLength="31.97" lengthAdjust="spacingAndGlyphs">10-15</text><text x="156.98" y="286.8" textLength="16.89" lengthAdjust="spacingAndGlyphs">km</text></g>
<g style="font-size:12.5px;fill:#333"><text x="127.75" y="483.8" textLength="25.02" lengthAdjust="spacingAndGlyphs">5-10</text><text x="155.73" y="483.8" textLength="16.89" lengthAdjust="spacingAndGlyphs">km</text></g>
<g style="font-size:12.5px;fill:#333"><text x="136.22" y="611.5" textLength="18.07" lengthAdjust="spacingAndGlyphs">0-5</text><text x="157.26" y="611.5" textLength="16.89" lengthAdjust="spacingAndGlyphs">km</text></g>
<g style="font-size:12.5px;fill:#333"><text x="279.38" y="123.3" textLength="31.97" lengthAdjust="spacingAndGlyphs">30-40</text><text x="314.3" y="123.3" textLength="16.89" lengthAdjust="spacingAndGlyphs">km</text></g>
<g style="font-size:12.5px;fill:#333"><text x="250.22" y="184.4" textLength="31.97" lengthAdjust="spacingAndGlyphs">20-30</text><text x="285.13" y="184.4" textLength="16.89" lengthAdjust="spacingAndGlyphs">km</text></g>
<g style="font-size:12.5px;fill:#333"><text x="251.96" y="277.4" textLength="31.97" lengthAdjust="spacingAndGlyphs">15-20</text><text x="286.88" y="277.4" textLength="16.89" lengthAdjust="spacingAndGlyphs">km</text></g>
<g style="font-size:12.5px;fill:#333"><text x="256.06" y="371.3" textLength="31.97" lengthAdjust="spacingAndGlyphs">10-15</text><text x="290.98" y="371.3" textLength="16.89" lengthAdjust="spacingAndGlyphs">km</text></g>
<g style="font-size:12.5px;fill:#333"><text x="259.75" y="501.5" textLength="25.02" lengthAdjust="spacingAndGlyphs">5-10</text><text x="287.73" y="501.5" textLength="16.89" lengthAdjust="spacingAndGlyphs">km</text></g>
<g style="font-size:12.5px;fill:#333"><text x="248.92" y="619.4" textLength="18.07" lengthAdjust="spacingAndGlyphs">0-5</text><text x="269.96" y="619.4" textLength="16.89" lengthAdjust="spacingAndGlyphs">km</text></g>
<g style="font-size:12.5px;fill:#333"><text x="428.86" y="109.3" textLength="21.2" lengthAdjust="spacingAndGlyphs">60+</text><text x="452.9" y="109.3" textLength="16.89" lengthAdjust="spacingAndGlyphs">km</text></g>
<g style="font-size:12.5px;fill:#333"><text x="418.18" y="146.2" textLength="31.97" lengthAdjust="spacingAndGlyphs">40-50</text><text x="453.09" y="146.2" textLength="16.89" lengthAdjust="spacingAndGlyphs">km</text></g>
<g style="font-size:12.5px;fill:#333"><text x="414.18" y="182.1" textLength="31.97" lengthAdjust="spacingAndGlyphs">30-40</text><text x="449.1" y="182.1" textLength="16.89" lengthAdjust="spacingAndGlyphs">km</text></g>
<g style="font-size:12.5px;fill:#333"><text x="402.12" y="244.1" textLength="31.97" lengthAdjust="spacingAndGlyphs">20-30</text><text x="437.03" y="244.1" textLength="16.89" lengthAdjust="spacingAndGlyphs">km</text></g>
<g style="font-size:12.5px;fill:#333"><text x="402.06" y="336.6" textLength="31.97" lengthAdjust="spacingAndGlyphs">15-20</text><text x="436.98" y="336.6" textLength="16.89" lengthAdjust="spacingAndGlyphs">km</text></g>
<g style="font-size:12.5px;fill:#333"><text x="390.06" y="446" textLength="31.97" lengthAdjust="spacingAndGlyphs">10-15</text><text x="424.98" y="446" textLength="16.89" lengthAdjust="spacingAndGlyphs">km</text></g>
<g style="font-size:12.5px;fill:#333"><text x="392.25" y="559.2" textLength="25.02" lengthAdjust="spacingAndGlyphs">5-10</text><text x="420.23" y="559.2" textLength="16.89" lengthAdjust="spacingAndGlyphs">km</text></g>
<g style="font-size:12.5px;fill:#333"><text x="370.82" y="633.3" textLength="18.07" lengthAdjust="spacingAndGlyphs">0-5</text><text x="391.86" y="633.3" textLength="16.89" lengthAdjust="spacingAndGlyphs">km</text></g>
<g style="font-size:12.5px;fill:#333"><text x="549.38" y="128.3" textLength="31.97" lengthAdjust="spacingAndGlyphs">40-50</text><text x="584.29" y="128.3" textLength="16.89" lengthAdjust="spacingAndGlyphs">km</text></g>
<g style="font-size:12.5px;fill:#333"><text x="536.18" y="172.3" textLength="31.97" lengthAdjust="spacingAndGlyphs">30-40</text><text x="571.1" y="172.3" textLength="16.89" lengthAdjust="spacingAndGlyphs">km</text></g>
<g style="font-size:12.5px;fill:#333"><text x="526.02" y="270.3" textLength="31.97" lengthAdjust="spacingAndGlyphs">20-30</text><text x="560.93" y="270.3" textLength="16.89" lengthAdjust="spacingAndGlyphs">km</text></g>
<g style="font-size:12.5px;fill:#333"><text x="533.96" y="381.5" textLength="31.97" lengthAdjust="spacingAndGlyphs">15-20</text><text x="568.88" y="381.5" textLength="16.89" lengthAdjust="spacingAndGlyphs">km</text></g>
<g style="font-size:12.5px;fill:#333"><text x="527.26" y="461.9" textLength="31.97" lengthAdjust="spacingAndGlyphs">10-15</text><text x="562.18" y="461.9" textLength="16.89" lengthAdjust="spacingAndGlyphs">km</text></g>
<g style="font-size:12.5px;fill:#333"><text x="523.35" y="548.3" textLength="25.02" lengthAdjust="spacingAndGlyphs">5-10</text><text x="551.33" y="548.3" textLength="16.89" lengthAdjust="spacingAndGlyphs">km</text></g>
<g style="font-size:12.5px;fill:#333"><text x="552.82" y="625.4" textLength="18.07" lengthAdjust="spacingAndGlyphs">0-5</text><text x="573.86" y="625.4" textLength="16.89" lengthAdjust="spacingAndGlyphs">km</text></g>
<g style="font-size:12.5px;fill:#333"><text x="680.27" y="144.5" textLength="31.97" lengthAdjust="spacingAndGlyphs">40-50</text><text x="715.19" y="144.5" textLength="16.89" lengthAdjust="spacingAndGlyphs">km</text></g>
<g style="font-size:12.5px;fill:#333"><text x="645.28" y="200.1" textLength="31.97" lengthAdjust="spacingAndGlyphs">30-40</text><text x="680.2" y="200.1" textLength="16.89" lengthAdjust="spacingAndGlyphs">km</text></g>
<g style="font-size:12.5px;fill:#333"><text x="660.32" y="298.1" textLength="31.97" lengthAdjust="spacingAndGlyphs">20-30</text><text x="695.23" y="298.1" textLength="16.89" lengthAdjust="spacingAndGlyphs">km</text></g>
<g style="font-size:12.5px;fill:#333"><text x="669.06" y="417.3" textLength="31.97" lengthAdjust="spacingAndGlyphs">15-20</text><text x="703.98" y="417.3" textLength="16.89" lengthAdjust="spacingAndGlyphs">km</text></g>
<g style="font-size:12.5px;fill:#333"><text x="656.26" y="502.8" textLength="31.97" lengthAdjust="spacingAndGlyphs">10-15</text><text x="691.18" y="502.8" textLength="16.89" lengthAdjust="spacingAndGlyphs">km</text></g>
<g style="font-size:12.5px;fill:#333"><text x="651.35" y="578.3" textLength="25.02" lengthAdjust="spacingAndGlyphs">5-10</text><text x="679.33" y="578.3" textLength="16.89" lengthAdjust="spacingAndGlyphs">km</text></g>
<g style="font-size:12.5px;fill:#333"><text x="695.02" y="635.2" textLength="18.07" lengthAdjust="spacingAndGlyphs">0-5</text><text x="716.06" y="635.2" textLength="16.89" lengthAdjust="spacingAndGlyphs">km</text></g>
<g style="font-size:12.5px;fill:#333"><text x="765.96" y="110.1" textLength="21.2" lengthAdjust="spacingAndGlyphs">60+</text><text x="790" y="110.1" textLength="16.89" lengthAdjust="spacingAndGlyphs">km</text></g>
<g style="font-size:12.5px;fill:#333"><text x="767.08" y="136.1" textLength="31.97" lengthAdjust="spacingAndGlyphs">50-60</text><text x="802" y="136.1" textLength="16.89" lengthAdjust="spacingAndGlyphs">km</text></g>
<g style="font-size:12.5px;fill:#333"><text x="811.77" y="171.2" textLength="31.97" lengthAdjust="spacingAndGlyphs">40-50</text><text x="846.69" y="171.2" textLength="16.89" lengthAdjust="spacingAndGlyphs">km</text></g>
<g style="font-size:12.5px;fill:#333"><text x="779.28" y="224.7" textLength="31.97" lengthAdjust="spacingAndGlyphs">30-40</text><text x="814.2" y="224.7" textLength="16.89" lengthAdjust="spacingAndGlyphs">km</text></g>
<g style="font-size:12.5px;fill:#333"><text x="793.22" y="323" textLength="31.97" lengthAdjust="spacingAndGlyphs">20-30</text><text x="828.13" y="323" textLength="16.89" lengthAdjust="spacingAndGlyphs">km</text></g>
<g style="font-size:12.5px;fill:#333"><text x="782.96" y="418.6" textLength="31.97" lengthAdjust="spacingAndGlyphs">15-20</text><text x="817.88" y="418.6" textLength="16.89" lengthAdjust="spacingAndGlyphs">km</text></g>
<g style="font-size:12.5px;fill:#333"><text x="790.26" y="497.4" textLength="31.97" lengthAdjust="spacingAndGlyphs">10-15</text><text x="825.18" y="497.4" textLength="16.89" lengthAdjust="spacingAndGlyphs">km</text></g>
<g style="font-size:12.5px;fill:#333"><text x="785.35" y="574.4" textLength="25.02" lengthAdjust="spacingAndGlyphs">5-10</text><text x="813.33" y="574.4" textLength="16.89" lengthAdjust="spacingAndGlyphs">km</text></g>
<g style="font-size:12.5px;fill:#333"><text x="792.72" y="633.1" textLength="18.07" lengthAdjust="spacingAndGlyphs">0-5</text><text x="813.76" y="633.1" textLength="16.89" lengthAdjust="spacingAndGlyphs">km</text></g>
</svg></body></html>
